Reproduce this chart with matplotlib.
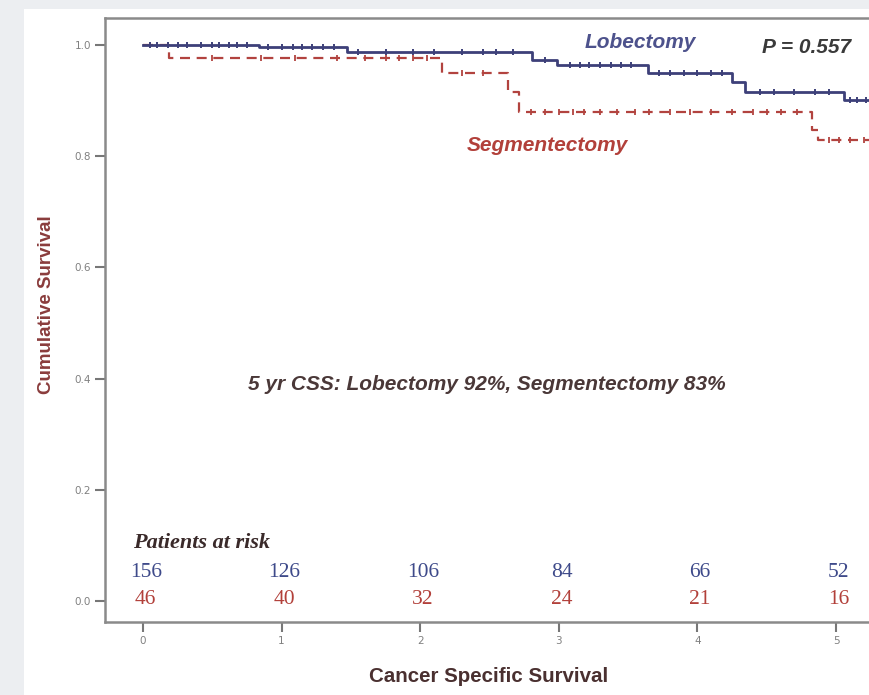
import matplotlib
matplotlib.use("Agg")
import matplotlib.pyplot as plt
from matplotlib.patches import Rectangle
import numpy as np

# ---- data ----
lob_event_times = [0.0, 0.84, 1.47, 2.81, 2.99, 3.64, 4.25, 4.34, 5.06]
lob_surv        = [1.0, 0.996, 0.987, 0.973, 0.964, 0.950, 0.933, 0.915, 0.901]
seg_event_times = [0.0, 0.19, 2.16, 2.63, 2.71, 4.83, 4.87]
seg_surv        = [1.0, 0.977, 0.950, 0.915, 0.879, 0.847, 0.829]

lob_censor = [0.05, 0.1, 0.18, 0.25, 0.32, 0.42, 0.5, 0.55, 0.62, 0.68, 0.75,
              0.9, 1.0, 1.08, 1.15, 1.22, 1.3, 1.38,
              1.55, 1.75, 1.95, 2.1, 2.3, 2.45, 2.55, 2.67, 2.9,
              3.08, 3.15, 3.22, 3.3, 3.38, 3.45, 3.52,
              3.72, 3.8, 3.9, 4.0, 4.1, 4.18,
              4.45, 4.55, 4.7, 4.85, 4.95, 5.1, 5.15, 5.22]
seg_censor = [0.5, 0.85, 1.1, 1.4, 1.6, 1.75, 1.85, 1.95, 2.05,
              2.3, 2.45, 2.8, 2.9, 3.0, 3.1, 3.18, 3.3, 3.42, 3.55, 3.65,
              3.8, 3.95, 4.1, 4.25, 4.4, 4.5, 4.6, 4.72,
              4.95, 5.02, 5.1, 5.2]

years = [0, 1, 2, 3, 4, 5]
lob_at_risk = [156, 126, 106, 84, 66, 52]
seg_at_risk = [46, 40, 32, 24, 21, 16]
yticks = [0.0, 0.2, 0.4, 0.6, 0.8, 1.0]

BLUE = "#3d4079"
RED = "#b2433f"
END_T = 5.5

def surv_at(times, surv, t):
    idx = np.searchsorted(times, t, side="right") - 1
    return surv[idx]

W, H = 870, 695
fig = plt.figure(figsize=(W / 100, H / 100), dpi=100, facecolor="#eceef1")
bg = Rectangle((24 / W, 0), 1 - 24 / W, (H - 9) / H,
               transform=fig.transFigure, facecolor="white",
               edgecolor="none", zorder=-10)
fig.patches.append(bg)

# axes geometry: x px = 143 + 138.6*t ; y px = 601 - 556*s
x_left_t = (105 - 143) / 138.6
x_right_t = 5.5
ax_w = (143 + 138.6 * x_right_t - 105) / W
y_bot = (601 - 622) / 556
y_top = (601 - 18) / 556
ax = fig.add_axes([105 / W, 1 - 622 / H, ax_w, (622 - 18) / H])
ax.set_zorder(5)
ax.set_xlim(x_left_t, x_right_t)
ax.set_ylim(y_bot, y_top)
ax.set_facecolor("white")

# curves
lt = list(lob_event_times) + [END_T]
ls = list(lob_surv) + [lob_surv[-1]]
ax.step(lt, ls, where="post", color=BLUE, lw=2.0, zorder=3)
st = list(seg_event_times) + [END_T]
ss = list(seg_surv) + [seg_surv[-1]]
ax.step(st, ss, where="post", color=RED, lw=1.6, ls=(0, (4.5, 3)), zorder=2)

lc_y = [surv_at(lob_event_times, lob_surv, t) for t in lob_censor]
sc_y = [surv_at(seg_event_times, seg_surv, t) for t in seg_censor]
ax.plot(lob_censor, lc_y, ls="none", marker="|", ms=5, mew=1.4, color=BLUE, zorder=3)
ax.plot(seg_censor, sc_y, ls="none", marker="|", ms=4.5, mew=1.3, color=RED, zorder=2)

# spines / ticks
for side in ["left", "bottom", "top", "right"]:
    ax.spines[side].set_color("#8a8a8a")
    ax.spines[side].set_linewidth(1.8)
ax.set_xticks(years)
ax.set_xticklabels([str(y) for y in years])
ax.set_yticks(yticks)
ax.set_yticklabels([f"{v:.1f}" for v in yticks])
ax.tick_params(axis="both", direction="out", length=7, width=1.5, color="#777777",
               labelsize=7.5, labelcolor="#808080", pad=3)

# labels
fig.text(47 / W, 1 - 305 / H, "Cumulative Survival", rotation=90, ha="center",
         va="center", fontsize=13.5, fontweight="bold", color="#8a3c3c",
         family="Liberation Sans")
fig.text(489 / W, 1 - 677 / H, "Cancer Specific Survival", ha="center", va="center",
         fontsize=14.8, fontweight="bold", color="#4a3030", family="Liberation Sans")

# annotations
ax.text(3.59, 1.005, "Lobectomy", ha="center", va="center", fontsize=15,
        style="italic", fontweight="bold", color="#4d528c", family="Liberation Sans")
ax.text(4.79, 0.996, "P = 0.557", ha="center", va="center", fontsize=15,
        style="italic", fontweight="bold", color="#3a3a3a", family="Liberation Sans")
ax.text(2.92, 0.82, "Segmentectomy", ha="center", va="center", fontsize=15,
        style="italic", fontweight="bold", color="#b2403a", family="Liberation Sans")
ax.text(2.48, 0.39, "5 yr CSS: Lobectomy 92%, Segmentectomy 83%", ha="center",
        va="center", fontsize=15, style="italic", fontweight="bold",
        color="#4a3838", family="Liberation Sans")

# patients at risk
ax.text(-0.07, 0.104, "Patients at risk", ha="left", va="center", fontsize=16,
        style="italic", fontweight="bold", color="#3a2a2a", family="Liberation Serif")
for t, n in zip(years, lob_at_risk):
    ax.text(t + 0.02, 0.052, str(n), ha="center", va="center", fontsize=15.5,
            color="#3e4a8a", family="Liberation Serif")
for t, n in zip(years, seg_at_risk):
    ax.text(t + 0.02, 0.003, str(n), ha="center", va="center", fontsize=15.5,
            color="#b2403a", family="Liberation Serif")

fig.savefig("out.png", dpi=100, facecolor=fig.get_facecolor())
